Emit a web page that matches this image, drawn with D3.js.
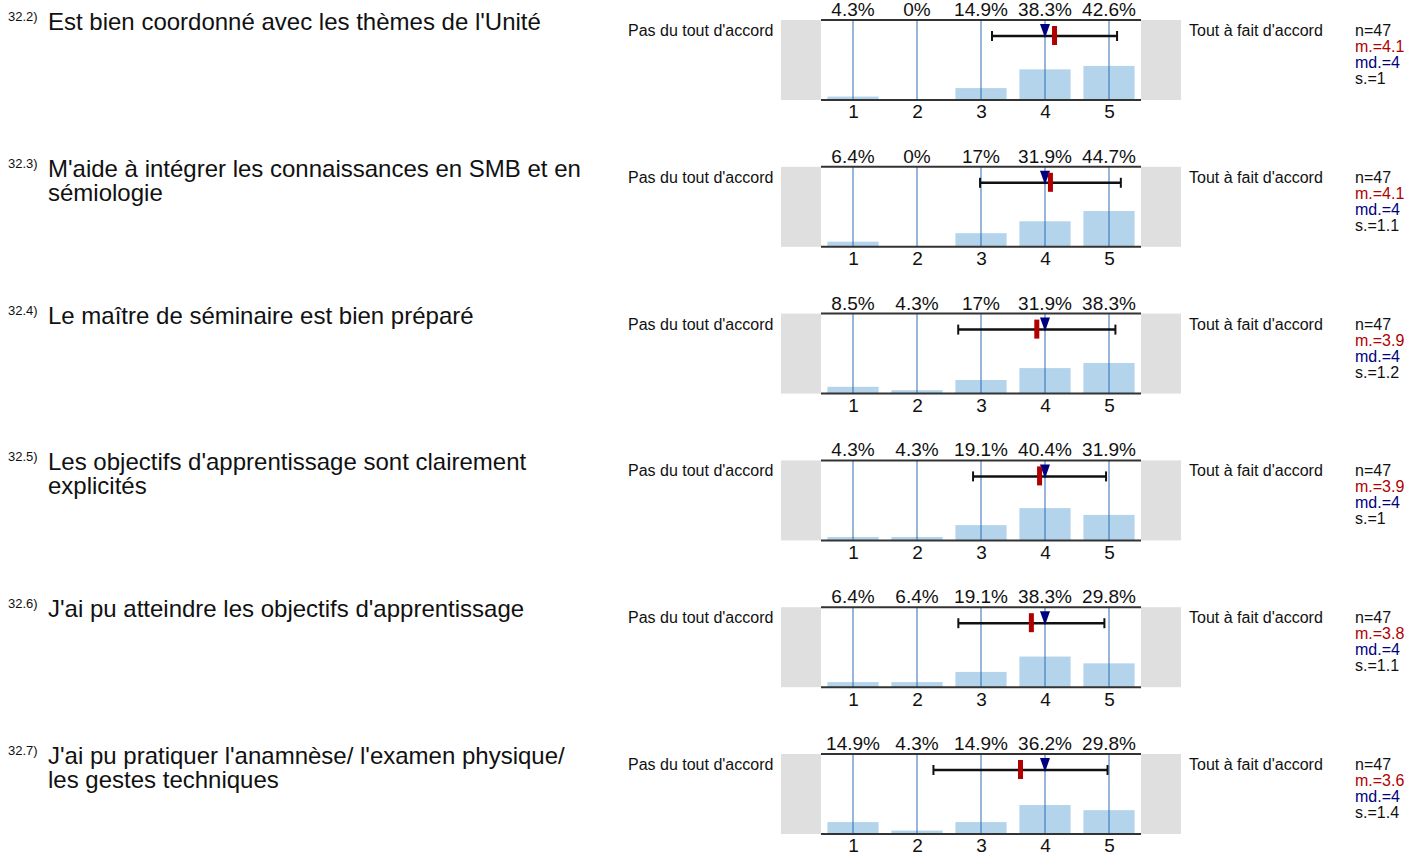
<!DOCTYPE html>
<html>
<head>
<meta charset="utf-8">
<script src="https://cdn.jsdelivr.net/npm/d3@7/dist/d3.min.js"></script>
<style>
  html, body { margin: 0; padding: 0; background: #fff; }
  svg { display: block; font-family: "Liberation Sans", Arial, sans-serif; }
</style>
</head>
<body>
<svg id="chart" width="1404" height="855"></svg>
<script>
// Survey items
const itemNumbers = ["32.2)", "32.3)", "32.4)", "32.5)", "32.6)", "32.7)"];
const itemLines = [
  ["Est bien coordonné avec les thèmes de l'Unité"],
  ["M'aide à intégrer les connaissances en SMB et en", "sémiologie"],
  ["Le maître de séminaire est bien préparé"],
  ["Les objectifs d'apprentissage sont clairement", "explicités"],
  ["J'ai pu atteindre les objectifs d'apprentissage"],
  ["J'ai pu pratiquer l'anamnèse/ l'examen physique/", "les gestes techniques"]
];

// Response scale
const scalePoints = [1, 2, 3, 4, 5];
const leftAnchor = "Pas du tout d'accord";
const rightAnchor = "Tout à fait d'accord";

// Share of answers per scale point (%)
const pct1 = [4.3, 0, 14.9, 38.3, 42.6];
const pct2 = [6.4, 0, 17, 31.9, 44.7];
const pct3 = [8.5, 4.3, 17, 31.9, 38.3];
const pct4 = [4.3, 4.3, 19.1, 40.4, 31.9];
const pct5 = [6.4, 6.4, 19.1, 38.3, 29.8];
const pct6 = [14.9, 4.3, 14.9, 36.2, 29.8];
const percents = [pct1, pct2, pct3, pct4, pct5, pct6];

// Summary statistics per item
const nValues = [47, 47, 47, 47, 47, 47];
const means = [4.149, 4.085, 3.872, 3.915, 3.787, 3.617];
const medians = [4, 4, 4, 4, 4, 4];
const sds = [0.977, 1.100, 1.228, 1.039, 1.141, 1.360];

const svg = d3.select("#chart");

const plotLeft = 821, plotRight = 1141, plotH = 80, padW = 40;
const rowTop = d3.scaleLinear().domain([0, 5]).range([20, 754]);

const xBand = d3.scaleBand().domain(scalePoints).range([plotLeft, plotRight])
  .paddingInner(0.2).paddingOuter(0.1);
const xVal = d3.scaleLinear().domain([1, 5])
  .range([plotLeft + xBand.step() / 2, plotRight - xBand.step() / 2]);
const yPct = d3.scaleLinear().domain([0, 100]).range([plotH, 0]);

const fmtPct = d3.format(".1~f");
const fmtMean = d3.format(".1f");
const fmtSd = d3.format(".1~f");

const colBar = "#b4d4ec", colGrid = "#2d6db5", colMean = "#b00000", colMed = "#00007f";

percents.forEach((pct, i) => {
  const g = svg.append("g").attr("transform", `translate(0,${rowTop(i)})`);

  // Item label
  g.append("text").attr("x", 8).attr("y", 1).attr("font-size", 13).attr("fill", "#111")
    .text(itemNumbers[i]);
  itemLines[i].forEach((line, k) => {
    g.append("text").attr("x", 48).attr("y", 10 + k * 24).attr("font-size", 24)
      .attr("fill", "#111").text(line);
  });

  // Side padding boxes
  g.append("rect").attr("x", plotLeft - padW).attr("y", 0).attr("width", padW).attr("height", plotH)
    .attr("fill", "#dfdfdf");
  g.append("rect").attr("x", plotRight).attr("y", 0).attr("width", padW).attr("height", plotH)
    .attr("fill", "#dfdfdf");

  // Bars
  g.selectAll("rect.bar").data(scalePoints).join("rect").attr("class", "bar")
    .attr("x", d => xBand(d)).attr("width", xBand.bandwidth())
    .attr("y", (d, j) => yPct(pct[j])).attr("height", (d, j) => plotH - yPct(pct[j]))
    .attr("fill", colBar);

  // Vertical reference lines at each scale point
  g.selectAll("line.grid").data(scalePoints).join("line").attr("class", "grid")
    .attr("x1", d => xVal(d)).attr("x2", d => xVal(d)).attr("y1", 0).attr("y2", plotH)
    .attr("stroke", colGrid).attr("stroke-width", 1);

  // Top and bottom frame lines
  [0, plotH].forEach(y => {
    g.append("line").attr("x1", plotLeft).attr("x2", plotRight).attr("y1", y).attr("y2", y)
      .attr("stroke", "#333").attr("stroke-width", 2);
  });

  // Percent labels
  g.selectAll("text.pct").data(scalePoints).join("text").attr("class", "pct")
    .attr("x", d => xVal(d)).attr("y", -4).attr("text-anchor", "middle").attr("font-size", 19)
    .attr("fill", "#111").text((d, j) => fmtPct(pct[j]) + "%");

  // Scale point labels
  const axis = d3.axisBottom(xVal).tickValues(scalePoints).tickSize(0).tickPadding(5)
    .tickFormat(d3.format("d"));
  const ax = g.append("g").attr("transform", `translate(0,${plotH})`).call(axis);
  ax.select(".domain").remove();
  ax.selectAll("text").attr("font-size", 19).attr("fill", "#111")
    .attr("font-family", "Liberation Sans, Arial, sans-serif");

  // Mean ± SD bar
  const ey = 16;
  const lo = means[i] - sds[i], hi = means[i] + sds[i];
  g.append("line").attr("x1", xVal(lo)).attr("x2", xVal(hi)).attr("y1", ey).attr("y2", ey)
    .attr("stroke", "#111").attr("stroke-width", 2.5);
  [lo, hi].forEach(v => {
    g.append("line").attr("x1", xVal(v)).attr("x2", xVal(v)).attr("y1", ey - 5).attr("y2", ey + 5)
      .attr("stroke", "#111").attr("stroke-width", 2);
  });

  // Median marker
  const mx = xVal(medians[i]);
  g.append("path").attr("d", `M${mx - 5},${ey - 12}L${mx + 5},${ey - 12}L${mx},${ey + 2}Z`)
    .attr("fill", colMed);

  // Mean marker
  g.append("rect").attr("x", xVal(means[i]) - 2.5).attr("y", ey - 10).attr("width", 5).attr("height", 19)
    .attr("fill", colMean);

  // Anchor labels
  g.append("text").attr("x", 628).attr("y", 16).attr("font-size", 16).attr("fill", "#111").text(leftAnchor);
  g.append("text").attr("x", 1189).attr("y", 16).attr("font-size", 16).attr("fill", "#111").text(rightAnchor);

  // Statistics
  const stats = [
    ["n=" + nValues[i], "#111"],
    ["m.=" + fmtMean(means[i]), colMean],
    ["md.=" + medians[i], colMed],
    ["s.=" + fmtSd(sds[i]), "#111"]
  ];
  stats.forEach(([t, c], k) => {
    g.append("text").attr("x", 1355).attr("y", 16 + k * 16).attr("font-size", 16).attr("fill", c).text(t);
  });
});
</script>
</body>
</html>
